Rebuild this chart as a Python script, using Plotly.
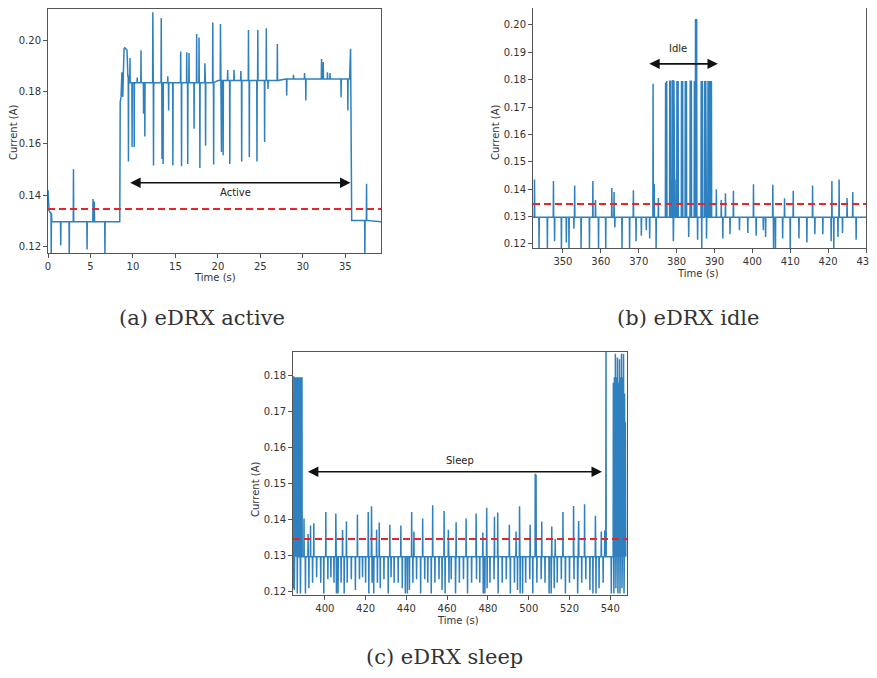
import numpy as np
import plotly.graph_objects as go

W, H = 877, 678
OFF = 8  # page body margin of the browser

# ---- (a) eDRX active : trace shape keypoints + spikes (time s, current A)
a_key_t = [0, 0.12, 0.3, 0.45, 8.45, 8.5, 8.6, 8.7, 8.8, 8.95, 9.05, 9.3, 9.4, 9.55, 20, 28, 35.5, 35.62, 35.75, 39.2]
a_key_i = [0.142, 0.134, 0.133, 0.1297, 0.1297, 0.176, 0.178, 0.1875, 0.178, 0.1965, 0.197, 0.196, 0.186, 0.1835,
           0.1843, 0.1849, 0.1849, 0.1966, 0.1302, 0.1297]
a_up_t = [3.0, 5.3, 5.45, 9.65, 10.5, 10.95, 12.34, 13.33, 14.1, 15.62, 16.33, 16.6, 17.5, 17.78, 18.47, 19.4, 20.3,
          21.15, 21.9, 22.7, 23.6, 24.7, 25.7, 27.0, 28.9, 30.2, 32.2, 32.4, 32.9, 33.2, 37.5]
a_up_i = [0.150, 0.1385, 0.1375, 0.193, 0.1855, 0.196, 0.2107, 0.2085, 0.186, 0.1956, 0.1953, 0.195, 0.2023, 0.201,
          0.191, 0.2068, 0.2062, 0.1884, 0.1884, 0.188, 0.2039, 0.2039, 0.2046, 0.1985, 0.1865, 0.1872, 0.1927,
          0.1915, 0.1875, 0.1872, 0.1444]
a_dn_t = [0.38, 1.5, 2.5, 4.6, 6.7, 9.47, 9.9, 10.15, 11.25, 11.4, 12.42, 13.42, 13.55, 14.2, 14.7, 15.72, 16.45,
          17.2, 17.88, 18.55, 19.5, 20.42, 20.62, 21.4, 22.8, 23.7, 24.6, 25.5, 25.9, 28.1, 30.35, 34.5, 35.3, 37.3]
a_dn_i = [0.117, 0.1205, 0.117, 0.119, 0.117, 0.153, 0.1586, 0.1586, 0.1715, 0.1627, 0.1515, 0.154, 0.152, 0.1727,
          0.1515, 0.1512, 0.152, 0.1657, 0.1505, 0.1591, 0.1518, 0.1567, 0.1554, 0.152, 0.153, 0.1547, 0.153,
          0.1605, 0.1811, 0.1785, 0.1766, 0.1779, 0.1727, 0.117]

# ---- (b) eDRX idle
b_key_t = [342.1, 430]
b_key_i = [0.1297, 0.1297]
b_up_t = [342.5, 347.5, 353.1, 357.9, 358.6, 362.9, 363.5, 368.6, 373.8, 374.1, 375.2,
          377.1, 377.4, 378.2, 378.5, 378.75, 379.0, 379.3, 379.6, 380.1, 380.4, 381.3, 381.6, 382.3, 382.6,
          383.6, 383.9, 384.7, 385.0, 385.3, 386.5, 386.8, 387.4, 387.7, 388.3, 388.6, 388.95, 389.2,
          390.5, 391.8, 392.9, 395.0, 400.3, 405.4, 408.5, 410.8, 415.9, 421.0, 422.9, 425.0, 426.5]
b_up_i = [0.1435, 0.143, 0.1413, 0.143, 0.136, 0.1404, 0.139, 0.1396, 0.1785, 0.142, 0.1368,
          0.179, 0.1795, 0.1797, 0.1797, 0.1435, 0.1799, 0.1797, 0.1435, 0.1795, 0.1795, 0.1795, 0.1795, 0.1795,
          0.1795, 0.1797, 0.1797, 0.1795, 0.2022, 0.2022, 0.1795, 0.1795, 0.1795, 0.1795, 0.1795, 0.1795, 0.1795,
          0.1795, 0.140, 0.136, 0.1385, 0.1394, 0.1418, 0.1416, 0.1367, 0.1394, 0.1413, 0.143, 0.1435, 0.1368, 0.139]
b_dn_t = [343.7, 345.9, 347.8, 349.6, 350.9, 351.6, 352.9, 354.8, 357.0, 359.4, 361.3, 363.7, 365.6, 367.6, 369.3,
          370.7, 372.0, 372.9, 374.6, 379.15, 383.2, 385.55, 386.65, 387.9, 392.2, 394.1, 396.6, 398.8, 401.0,
          402.9, 403.5, 405.6, 406.1, 408.0, 410.0, 412.3, 414.4, 416.5, 418.6, 420.8, 421.5, 422.6, 423.8, 427.4]
b_dn_i = [0.118, 0.118, 0.121, 0.118, 0.1205, 0.118, 0.1255, 0.118, 0.118, 0.118, 0.118, 0.126, 0.118, 0.118, 0.121,
          0.123, 0.125, 0.122, 0.118, 0.121, 0.1225, 0.1215, 0.118, 0.122, 0.122, 0.1235, 0.125, 0.124, 0.123,
          0.125, 0.1225, 0.118, 0.118, 0.122, 0.118, 0.122, 0.1205, 0.1235, 0.1235, 0.121, 0.118, 0.1225, 0.124,
          0.1215]

# ---- (c) eDRX sleep
c_key_t = [384.4, 547.6]
c_key_i = [0.1297, 0.1297]
c_up_t = [384.8, 385.3, 385.8, 386.2, 386.8, 387.3, 387.8, 388.3, 388.8, 389.8, 391.8, 393.0, 394.6, 400.5, 405.4,
          408.7, 410.6, 416.0, 421.3, 422.9, 425.4, 426.7, 431.9, 437.3, 442.6, 443.7, 448.0, 452.9, 458.5,
          460.6, 464.4, 469.3, 474.2, 477.5, 479.4, 483.2, 484.8, 490.5, 493.8, 495.5, 500.7, 503.2, 503.6,
          506.4, 511.3, 513.0, 516.8, 522.0, 524.5, 527.4, 532.7, 535.6, 537.3, 537.9,
          541.5, 542.0, 542.5, 543.0, 543.5, 544.0, 544.5, 545.0, 545.5, 546.0, 546.5, 547.0, 547.4]
c_up_i = [0.1798, 0.1795, 0.1795, 0.1795, 0.1795, 0.1795, 0.1795, 0.1795, 0.1795, 0.1403, 0.136, 0.1384, 0.139,
          0.1421, 0.1417, 0.1371, 0.1395, 0.1414, 0.1421, 0.1437, 0.1372, 0.1392, 0.1386, 0.1384, 0.1421, 0.1367,
          0.1403, 0.144, 0.1424, 0.1372, 0.1393, 0.1403, 0.1417, 0.1364, 0.1433, 0.1408, 0.142, 0.1386, 0.1367,
          0.1437, 0.1386, 0.1527, 0.1525, 0.1395, 0.1381, 0.1346, 0.1421, 0.1438, 0.1396, 0.1443, 0.1411, 0.1367,
          0.137, 0.19, 0.178, 0.1795, 0.186, 0.1795, 0.185, 0.178, 0.1845, 0.1795, 0.186, 0.1795, 0.186, 0.175,
          0.167]
c_dn_t = [384.45, 385.05, 386.5, 388.05, 390.5, 392.2, 394.0, 396.0, 398.0, 399.5, 401.5, 403.0, 404.5, 405.7,
          406.5, 408.0, 409.5, 411.0, 413.0, 415.0, 417.0, 418.5, 420.0, 421.6, 423.2, 424.0, 425.8, 427.2, 429.0,
          431.1, 432.5, 434.0, 436.0, 438.0, 439.5, 440.5, 441.5, 443.2, 445.0, 447.0, 449.0, 450.5, 452.2, 454.0,
          456.0, 457.5, 459.0, 460.9, 462.0, 464.1, 466.0, 468.0, 470.0, 472.0, 474.4, 476.0, 477.7, 478.5, 479.6,
          481.0, 483.0, 485.0, 487.0, 489.0, 491.0, 493.0, 494.5, 495.8, 497.0, 498.5, 500.5, 502.0, 504.0, 506.1,
          508.0, 510.0, 511.0, 512.5, 514.0, 516.0, 518.0, 520.0, 522.2, 524.0, 526.0, 528.0, 530.0, 531.5, 533.0,
          534.5, 536.5, 540.5, 541.75, 542.75, 543.75, 544.75, 545.75, 546.75]
c_dn_i = [0.121, 0.1205, 0.1195, 0.1195, 0.1195, 0.121, 0.1225, 0.124, 0.1225, 0.1195, 0.1235, 0.124, 0.1225,
          0.1195, 0.1195, 0.1225, 0.1195, 0.1225, 0.1235, 0.1205, 0.1235, 0.124, 0.1225, 0.1195, 0.1225, 0.1195,
          0.1225, 0.121, 0.1235, 0.1195, 0.124, 0.1225, 0.1225, 0.121, 0.1195, 0.1195, 0.1205, 0.1225, 0.1235,
          0.1195, 0.1235, 0.1225, 0.1195, 0.1225, 0.1235, 0.1205, 0.1195, 0.1225, 0.1235, 0.1195, 0.1225, 0.1235,
          0.1195, 0.1225, 0.1235, 0.1225, 0.1195, 0.1195, 0.121, 0.1225, 0.1235, 0.1195, 0.1225, 0.1235, 0.1195,
          0.1225, 0.1205, 0.1195, 0.1195, 0.1225, 0.1235, 0.1195, 0.1225, 0.1235, 0.1225, 0.1195, 0.1195, 0.121,
          0.1225, 0.1235, 0.1195, 0.1225, 0.1235, 0.1195, 0.1225, 0.1235, 0.1205, 0.1195, 0.1195, 0.121, 0.1225,
          0.1195, 0.1195, 0.121, 0.1195, 0.1195, 0.121, 0.1195]

threshold = 0.1346

panels = [
    dict(key=(a_key_t, a_key_i), up=(a_up_t, a_up_i), dn=(a_dn_t, a_dn_i), hw=0.025,
         xr=[0, 39.2], yr=[0.1176, 0.212], xt=list(range(0, 40, 5)), yt=[0.12, 0.14, 0.16, 0.18, 0.20],
         box=(48, 381, 9, 253), arrow=(9.5, 35.6, 0.1448), label=("Active", 22.1, 0.1412),
         ytitle=(13, 133), xtitle=(215, 277), caption=("(a) eDRX active", 202, 318)),
    dict(key=(b_key_t, b_key_i), up=(b_up_t, b_up_i), dn=(b_dn_t, b_dn_i), hw=0.06,
         xr=[342.1, 430], yr=[0.1185, 0.2062], xt=list(range(350, 431, 10)),
         yt=[0.12, 0.13, 0.14, 0.15, 0.16, 0.17, 0.18, 0.19, 0.20],
         box=(533, 866, 8, 248), arrow=(372.4, 390.9, 0.1858), label=("Idle", 380.5, 0.1915),
         ytitle=(495, 133), xtitle=(698, 273), caption=("(b) eDRX idle", 688, 318)),
    dict(key=(c_key_t, c_key_i), up=(c_up_t, c_up_i), dn=(c_dn_t, c_dn_i), hw=0.1,
         xr=[384.4, 548.2], yr=[0.1191, 0.1865], xt=list(range(400, 541, 20)),
         yt=[0.12, 0.13, 0.14, 0.15, 0.16, 0.17, 0.18],
         box=(293, 627, 352, 595), arrow=(391, 535.9, 0.1533), label=("Sleep", 466.3, 0.1563),
         ytitle=(255, 490), xtitle=(458, 620), caption=("(c) eDRX sleep", 444, 657)),
]

# figure sits 8px in from the top-left; keep page height inside the window
FW, FH = W - OFF, H - 2 * OFF


def fx(x):
    return min(max((x - OFF) / FW, 0), 1)


def fy(y):
    return min(max(1 - (y - OFF) / FH, 0), 1)


def build(key, up, dn, hw):
    kt, ki = key
    kt_arr = np.array(kt)
    pts = list(zip(kt, ki))
    for t, v in list(zip(*up)) + list(zip(*dn)):
        k = max(int(np.searchsorted(kt_arr, t, side="right")) - 1, 0)
        b = ki[k]
        pts += [(t - hw, b), (t, v), (t + hw, b)]
    pts.sort(key=lambda p: p[0])
    return [p[0] for p in pts], [p[1] for p in pts]


fig = go.Figure()
annotations = []
axis_font = dict(family="DejaVu Sans", size=10, color="#333")

for n, p in enumerate(panels, start=1):
    sx = "" if n == 1 else str(n)
    xa, ya = "x" + sx, "y" + sx
    t, i = build(p["key"], p["up"], p["dn"], p["hw"])
    fig.add_trace(go.Scatter(x=t, y=i, mode="lines", line=dict(color="#2f80be", width=1.5),
                             xaxis=xa, yaxis=ya, showlegend=False, hoverinfo="skip"))
    fig.add_trace(go.Scatter(x=p["xr"], y=[threshold, threshold], mode="lines",
                             line=dict(color="#e8262a", width=2, dash="7px,4px"),
                             xaxis=xa, yaxis=ya, showlegend=False, hoverinfo="skip"))
    x0, x1, y0, y1 = p["box"]
    common = dict(showline=True, mirror=True, linecolor="#555", linewidth=1, ticks="outside", ticklen=4,
                  tickcolor="#555", showgrid=False, zeroline=False, tickfont=axis_font, automargin=False,
                  ticklabeloverflow="allow")
    fig.layout["xaxis" + sx] = dict(domain=[fx(x0), fx(x1)], range=p["xr"], tickvals=p["xt"],
                                    anchor=ya, **common)
    fig.layout["yaxis" + sx] = dict(domain=[fy(y1), fy(y0)], range=p["yr"], tickvals=p["yt"],
                                    tickformat=".2f", anchor=xa, **common)
    a0, a1, ay = p["arrow"]
    annotations.append(dict(x=a1, y=ay, ax=a0, ay=ay, xref=xa, yref=ya, axref=xa, ayref=ya, text="",
                            showarrow=True, arrowhead=2, arrowside="end+start", arrowsize=1.3,
                            arrowwidth=1.6, arrowcolor="#111"))
    lt, lx, ly = p["label"]
    annotations.append(dict(x=lx, y=ly, xref=xa, yref=ya, text=lt, showarrow=False,
                            xanchor="center", yanchor="middle",
                            font=dict(family="DejaVu Sans", size=10, color="#222")))
    tx, ty = p["ytitle"]
    annotations.append(dict(x=fx(tx), y=fy(ty), xref="paper", yref="paper", text="Current (A)",
                            xanchor="center", yanchor="middle",
                            textangle=-90, showarrow=False, font=axis_font))
    tx, ty = p["xtitle"]
    annotations.append(dict(x=fx(tx), y=fy(ty), xref="paper", yref="paper", text="Time (s)",
                            xanchor="center", yanchor="middle", showarrow=False, font=axis_font))
    ct, cx, cy = p["caption"]
    annotations.append(dict(x=fx(cx), y=fy(cy), xref="paper", yref="paper", text=ct,
                            xanchor="center", yanchor="middle", showarrow=False,
                            font=dict(family="DejaVu Serif", size=21, color="#333")))

fig.update_layout(width=FW, height=FH, margin=dict(l=0, r=0, t=0, b=0),
                  paper_bgcolor="white", plot_bgcolor="white", annotations=annotations)

fig.write_html("out.html")
